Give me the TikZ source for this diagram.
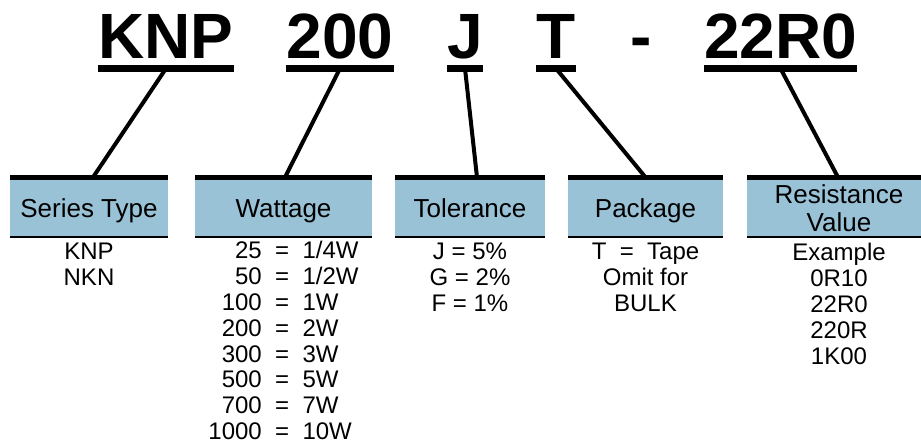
\documentclass[tikz,border=0pt]{standalone}
\usepackage{fontspec}
\setmainfont{Liberation Sans}
\usetikzlibrary{positioning}
\definecolor{hdrblue}{RGB}{154,194,214}

\begin{document}
\begin{tikzpicture}[
  x=1pt,y=-1pt,
  code/.style={font=\fontsize{64}{64}\selectfont\bfseries,inner sep=0,anchor=base},
  hdr/.style={fill=hdrblue,minimum height=56pt,inner sep=0,align=center,font=\fontsize{26}{28}\selectfont},
  vals/.style={inner sep=0,align=center,font=\fontsize{24}{26}\selectfont},
  uline/.style={line width=7pt},
  link/.style={line width=4pt},
]
  \useasboundingbox (0,0) rectangle (921,445);
  % part number
  \foreach \n/\x/\t in {cser/166/KNP,cwat/340/200,ctol/465/J,cpkg/556/T,cres/780.5/22R0}
    \node[code] (\n) at (\x,58) {\t};
  \node[code] (cdash) at (641,58) {-};
  % field headers
  \foreach \n/\x/\w/\t in {hser/89/158/Series Type,hwat/283.5/177/Wattage,htol/470/150/Tolerance,
      hpkg/645.5/155/Package}
    \node[hdr,minimum width=\w pt,text height=18.6pt,text depth=0pt] (\n) at (\x,208) {\t};
  \node[hdr,minimum width=184pt] (hres) at (839,208) {Resistance\\Value};
  % connectors
  \foreach \a/\b/\dx in {cser/hser/4,cwat/hwat/1.5,ctol/htol/7,cpkg/hpkg/0,cres/hres/-1}
    \draw[link] ([yshift=-10.5pt]\a.base) -- ([xshift=\dx pt,yshift=2.5pt]\b.north);
  \foreach \n in {cser,cwat,ctol,cpkg,cres}
    \draw[uline] ([yshift=-10.5pt]\n.base west) -- ([yshift=-10.5pt]\n.base east);
  \foreach \n in {hser,hwat,htol,hpkg,hres} {
    \draw[line width=5pt] ([yshift=2.5pt]\n.north west) -- ([yshift=2.5pt]\n.north east);
    \draw[line width=2.2pt] ([yshift=-1.1pt]\n.south west) -- ([yshift=-1.1pt]\n.south east);
  }
  % values
  \node[vals,below=7pt of hser] (lser) {KNP\\NKN};
  \node[vals,below=4.5pt of hwat,font=\fontsize{24}{25.8}\selectfont] (lwat) {\begin{tabular}{@{}r@{\ \ =\ \ }l@{}}
    25&1/4W\\ 50&1/2W\\ 100&1W\\ 200&2W\\ 300&3W\\ 500&5W\\ 700&7W\\ 1000&10W
  \end{tabular}};
  \node[vals,below=6.5pt of htol] (ltol) {J = 5\%\\G = 2\%\\F = 1\%};
  \node[vals,below=7pt of hpkg] (lpkg) {T\ \ =\ \ Tape\\Omit for\\BULK};
  \node[vals,below=7pt of hres] (lres) {Example\\0R10\\22R0\\220R\\1K00};
\end{tikzpicture}
\end{document}
